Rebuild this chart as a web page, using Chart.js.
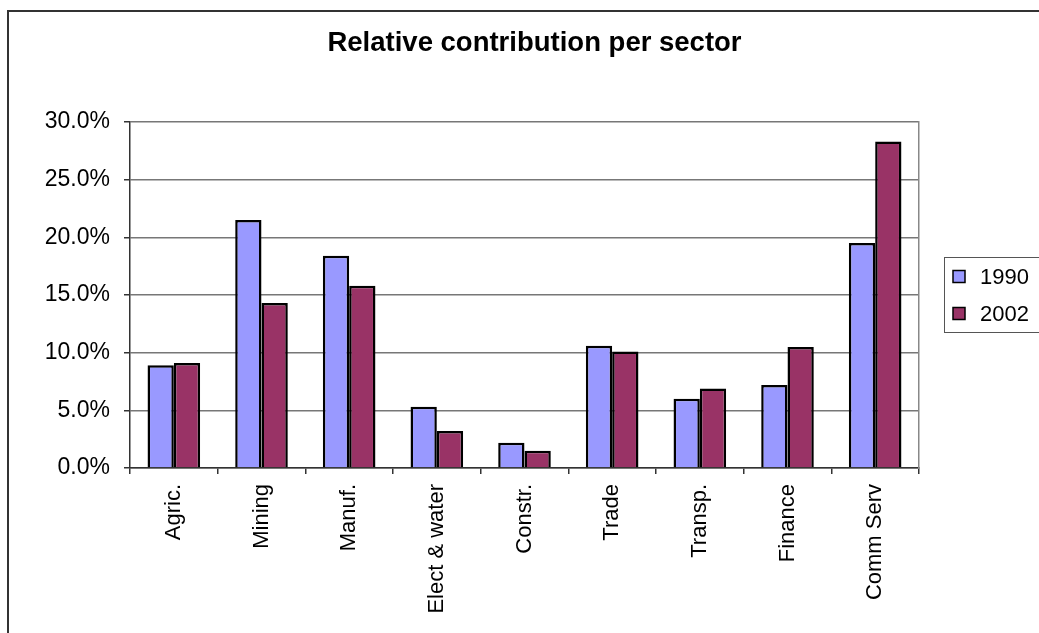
<!DOCTYPE html>
<html>
<head>
<meta charset="utf-8">
<script src="https://cdn.jsdelivr.net/npm/chart.js@4"></script>
<style>
  html, body { margin: 0; padding: 0; background: #fff; }
  #wrap { position: relative; width: 1039px; height: 633px; overflow: hidden; }
  #frame { position: absolute; left: 7px; top: 10px; width: 1100px; height: 700px;
           border-top: 2px solid #333; border-left: 2px solid #333; }
  canvas { position: absolute; left: 0; top: 0; }
</style>
</head>
<body>
<div id="wrap">
  <div id="frame"></div>
  <canvas id="sectorChart" width="1039" height="633"></canvas>
</div>
<script>
const sectors = ["Agric.", "Mining", "Manuf.", "Elect & water", "Constr.", "Trade", "Transp.", "Finance", "Comm Serv"];
const share1990 = [8.9, 21.5, 18.4, 5.3, 2.2, 10.6, 6.0, 7.2, 19.5];
const share2002 = [9.1, 14.3, 15.8, 3.2, 1.5, 10.1, 6.9, 10.5, 28.3];
const seriesNames = ["1990", "2002"];
const seriesColors = ["#9999FF", "#993366"];

window.addEventListener("DOMContentLoaded", () => {
  Chart.defaults.font.family = "'Liberation Sans', Arial, sans-serif";
  Chart.defaults.color = "#000";

  // boxed legend to the right of the plot, Excel style
  const boxLegend = {
    id: "boxLegend",
    afterDraw(chart) {
      const { ctx, chartArea } = chart;
      const lx = chartArea.right + 25;
      const midY = (chartArea.top + chartArea.bottom) / 2;
      const rowGap = 37;
      ctx.save();
      ctx.strokeStyle = "#555";
      ctx.lineWidth = 1;
      ctx.strokeRect(lx + 0.5, midY - 37.5, 120, 75);
      ctx.font = "22px 'Liberation Sans', Arial, sans-serif";
      ctx.textBaseline = "middle";
      chart.data.datasets.forEach((ds, i) => {
        const cy = midY - rowGap / 2 + i * rowGap;
        ctx.fillStyle = ds.backgroundColor;
        ctx.fillRect(lx + 9, cy - 6, 12, 12);
        ctx.strokeStyle = "#000";
        ctx.lineWidth = 1.5;
        ctx.strokeRect(lx + 9, cy - 6, 12, 12);
        ctx.fillStyle = "#000";
        ctx.fillText(ds.label, lx + 36, cy + 1);
      });
      ctx.restore();
    }
  };

  const canvas = document.getElementById("sectorChart");
  new Chart(canvas.getContext("2d"), {
    type: "bar",
    data: {
      labels: sectors,
      datasets: [
        {
          label: seriesNames[0],
          data: share1990,
          backgroundColor: seriesColors[0],
          borderColor: "#000",
          borderWidth: 2.5,
          categoryPercentage: 0.6,
          barPercentage: 1.0
        },
        {
          label: seriesNames[1],
          data: share2002,
          backgroundColor: seriesColors[1],
          borderColor: "#000",
          borderWidth: 2.5,
          categoryPercentage: 0.6,
          barPercentage: 1.0
        }
      ]
    },
    options: {
      responsive: false,
      animation: false,
      layout: { padding: { left: 30, right: 0, top: 0, bottom: 0 } },
      plugins: {
        legend: { display: false },
        tooltip: { enabled: false },
        title: {
          display: true,
          text: "Relative contribution per sector",
          font: { size: 27.5, weight: "bold" },
          color: "#000",
          padding: { top: 27, bottom: 62 }
        }
      },
      scales: {
        x: {
          afterFit: (scale) => { scale.height = 165; },
          border: { color: "#333", width: 1.5 },
          grid: { drawOnChartArea: false, drawTicks: true, tickLength: 6, color: "#333", lineWidth: 1.5 },
          ticks: {
            autoSkip: false,
            minRotation: 90,
            maxRotation: 90,
            padding: 10,
            font: { size: 22 }
          }
        },
        y: {
          min: 0,
          max: 30,
          afterFit: (scale) => { scale.width = 100; },
          border: { color: "#333", width: 1.5 },
          grid: { color: "#777", lineWidth: 1.5, tickLength: 6, tickColor: "#333" },
          ticks: {
            stepSize: 5,
            padding: 14,
            font: { size: 23 },
            callback: (v) => v.toFixed(1) + "%"
          }
        },
        // empty right axis: keeps room for the legend and draws the plot's right edge
        yRight: {
          type: "linear",
          position: "right",
          min: 0,
          max: 30,
          afterFit: (scale) => { scale.width = 120; },
          border: { color: "#888", width: 1.5 },
          grid: { display: false },
          ticks: { display: false }
        }
      }
    },
    plugins: [boxLegend]
  });
});
</script>
</body>
</html>
